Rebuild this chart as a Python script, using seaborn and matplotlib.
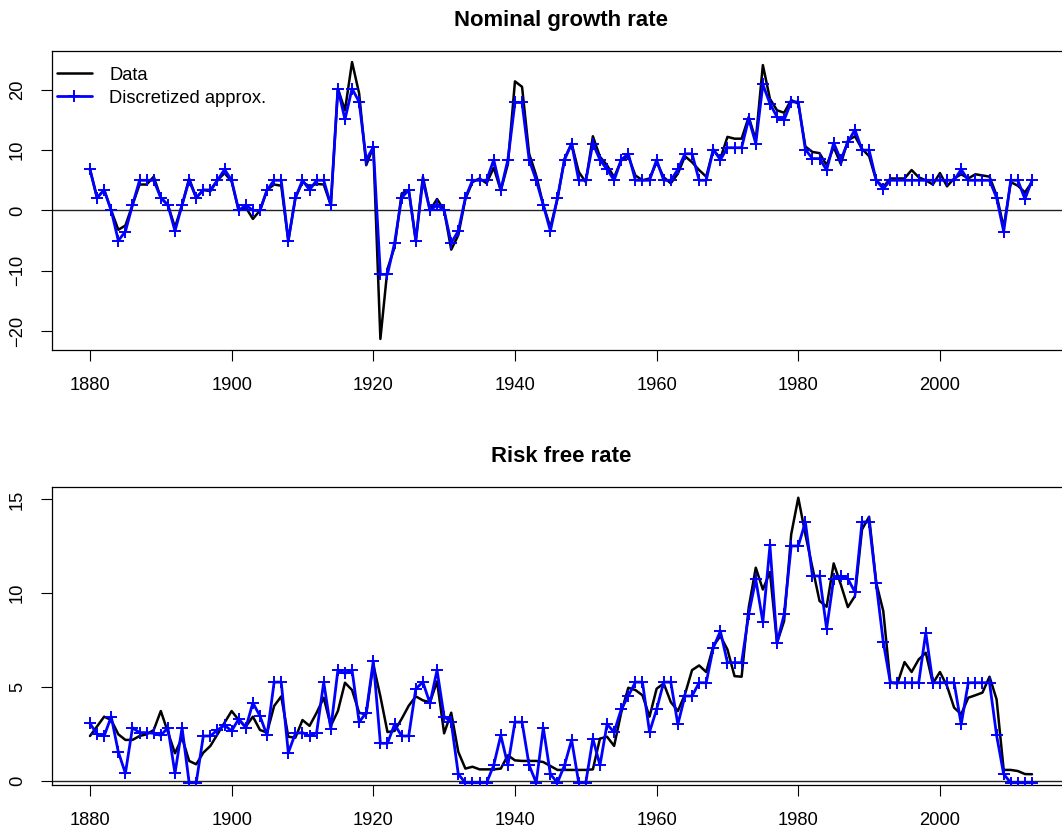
import matplotlib
matplotlib.use("Agg")
import matplotlib.pyplot as plt
import numpy as np
import pandas as pd
import seaborn as sns

# ---------------- data ----------------
years = list(range(1880, 2014))

growth_data = [
    6.8, 2.1, 3.4, 0.0, -3.2, -2.5, 0.9, 4.3, 4.3, 5.6,      # 1880-1889
    2.1, 0.9, -2.8, 0.9, 5.3, 2.1, 3.4, 3.2, 5.0, 6.2,       # 1890-1899
    4.8, 0.0, 0.5, -1.4, 0.0, 3.4, 4.3, 4.1, -5.0, 2.1,      # 1900-1909
    4.7, 4.0, 4.4, 4.3, 0.9, 20.2, 16.6, 24.6, 19.4, 7.5,    # 1910-1919
    10.5, -21.3, -9.7, -6.1, 2.8, 3.4, -5.0, 5.6, 0.0, 1.9,  # 1920-1929
    0.0, -6.5, -4.1, 1.9, 4.7, 5.3, 4.5, 7.1, 3.3, 7.7,      # 1930-1939
    21.4, 20.5, 9.4, 5.8, 0.9, -2.8, 1.9, 8.6, 11.1, 6.4,    # 1940-1949
    4.7, 12.3, 8.9, 7.5, 5.5, 8.3, 9.0, 5.8, 5.0, 5.3,       # 1950-1959
    8.0, 5.5, 4.5, 6.1, 9.0, 8.0, 6.7, 5.6, 10.1, 8.6,       # 1960-1969
    12.2, 11.9, 11.9, 15.5, 11.7, 24.1, 18.5, 16.6, 16.2, 18.3,  # 1970-1979
    17.7, 10.6, 9.7, 9.5, 7.5, 10.5, 7.7, 11.6, 12.3, 10.2,  # 1980-1989
    9.0, 5.0, 3.9, 5.3, 5.3, 5.3, 6.7, 5.5, 5.0, 4.3,        # 1990-1999
    6.2, 4.0, 5.3, 6.0, 5.3, 6.0, 5.8, 5.6, 2.5, -2.8,       # 2000-2009
    4.7, 4.1, 3.0, 4.7,                                      # 2010-2013
]

growth_approx = [
    6.8, 2.1, 3.4, 0.0, -5.0, -3.5, 0.9, 5.0, 5.0, 5.0,
    2.1, 0.9, -3.4, 0.9, 5.0, 2.1, 3.4, 3.4, 5.0, 6.8,
    5.0, 0.0, 0.9, 0.0, 0.0, 3.4, 5.0, 5.0, -5.0, 2.1,
    5.0, 3.4, 5.0, 5.0, 0.9, 20.2, 15.1, 20.2, 18.0, 8.4,
    10.5, -10.6, -10.6, -5.4, 2.1, 3.4, -5.0, 5.0, 0.0, 0.9,
    0.0, -5.4, -3.4, 2.1, 5.0, 5.0, 5.0, 8.4, 3.4, 8.4,
    17.9, 17.9, 8.4, 5.0, 0.9, -3.4, 2.1, 8.4, 11.1, 5.0,
    5.0, 11.1, 8.4, 6.8, 5.0, 8.4, 9.4, 5.0, 5.0, 5.0,
    8.4, 5.0, 5.0, 6.8, 9.4, 9.4, 5.0, 5.0, 10.1, 8.4,
    10.4, 10.4, 10.4, 15.2, 11.1, 20.9, 17.7, 15.5, 15.0, 18.0,
    18.0, 10.1, 8.6, 8.6, 6.7, 11.2, 8.4, 11.3, 13.4, 10.0,
    10.0, 5.0, 3.6, 5.0, 5.0, 5.0, 5.0, 5.0, 5.0, 5.0,
    5.0, 5.0, 5.0, 6.8, 5.0, 5.0, 5.0, 5.0, 2.1, -3.5,
    5.0, 5.0, 1.9, 5.0,
]

rf_data = [
    2.39, 2.9, 3.42, 3.24, 2.48, 2.18, 2.18, 2.39, 2.48, 2.71,
    3.72, 2.6, 1.47, 2.3, 1.06, 0.88, 1.5, 1.86, 2.48, 3.1,
    3.72, 3.24, 2.89, 3.42, 2.71, 2.57, 3.99, 4.5, 2.35, 2.3,
    3.24, 2.93, 3.63, 4.43, 2.93, 3.72, 5.23, 4.84, 3.63, 3.54,
    6.2, 4.5, 2.6, 2.66, 3.3, 4.0, 4.5, 4.29, 4.18, 5.3,
    2.53, 3.63, 1.54, 0.65, 0.75, 0.61, 0.61, 0.61, 0.65, 1.36,
    1.09, 1.06, 1.06, 1.06, 1.0, 0.79, 0.58, 0.58, 0.58, 0.58,
    0.58, 0.61, 2.25, 2.35, 1.86, 3.63, 4.96, 4.84, 4.56, 3.42,
    4.91, 5.19, 4.2, 3.72, 4.61, 5.9, 6.15, 5.8, 7.18, 7.72,
    7.0, 5.58, 5.55, 9.23, 11.36, 10.2, 11.13, 7.36, 8.52, 13.14,
    15.09, 13.14, 11.36, 9.59, 9.28, 11.59, 10.47, 9.26, 9.85, 13.4,
    14.08, 10.56, 9.05, 5.23, 5.19, 6.33, 5.8, 6.47, 6.83, 5.19,
    5.8, 5.05, 3.9, 3.55, 4.43, 4.56, 4.7, 5.55, 4.34, 0.58,
    0.58, 0.52, 0.36, 0.35,
]

rf_approx = [
    3.06, 2.48, 2.39, 3.42, 1.54, 0.40, 2.83, 2.57, 2.57, 2.53,
    2.42, 2.83, 0.40, 2.83, -0.1, -0.1, 2.39, 2.39, 2.71, 2.96,
    2.66, 3.30, 2.83, 4.16, 3.45, 2.42, 5.26, 5.26, 1.50, 2.53,
    2.57, 2.39, 2.57, 5.26, 2.78, 5.90, 5.73, 5.90, 3.13, 3.63,
    6.39, 2.00, 2.00, 3.01, 2.39, 2.39, 4.91, 5.26, 4.13, 5.90,
    3.42, 3.13, 0.35, -0.1, -0.1, -0.1, -0.1, 0.83, 2.42, 0.83,
    3.13, 3.13, 0.83, -0.1, 2.83, 0.35, -0.1, 0.83, 2.18, -0.1,
    -0.1, 2.25, 0.83, 3.01, 2.60, 3.81, 4.52, 5.26, 5.26, 2.60,
    3.81, 5.26, 5.26, 3.01, 4.52, 4.52, 5.23, 5.23, 7.10, 7.98,
    6.30, 6.30, 6.30, 8.87, 10.74, 8.46, 12.55, 7.36, 8.87, 12.52,
    12.52, 13.80, 10.92, 10.92, 8.11, 10.77, 10.92, 10.77, 10.06, 13.80,
    13.80, 10.52, 7.40, 5.23, 5.23, 5.23, 5.23, 5.23, 7.90, 5.23,
    5.23, 5.23, 5.23, 3.01, 5.23, 5.23, 5.23, 5.23, 2.42, 0.35,
    -0.1, -0.1, -0.1, -0.1,
]

titles = ["Nominal growth rate", "Risk free rate"]
legend_labels = ["Data", "Discretized approx."]
xtick_vals = [1880, 1900, 1920, 1940, 1960, 1980, 2000]
ytick_top = [-20, -10, 0, 10, 20]
ytick_bottom = [0, 5, 10, 15]

growth_df = pd.DataFrame({"year": years, "data": growth_data, "approx": growth_approx})
rf_df = pd.DataFrame({"year": years, "data": rf_data, "approx": rf_approx})

# ---------------- style ----------------
sns.set_style("ticks")
plt.rcParams['font.family'] = ['Liberation Sans', 'DejaVu Sans']
plt.rcParams['text.color'] = 'black'

W, H = 1062, 834
fig = plt.figure(figsize=(W / 100, H / 100), dpi=100)


def px_axes(left, top, right, bottom):
    return fig.add_axes([left / W, 1 - bottom / H, (right - left) / W, (bottom - top) / H])


ax1 = px_axes(52.3, 51, 1069.7, 350)
ax2 = px_axes(52.3, 486.7, 1069.7, 785.3)


def r_range(vals):
    lo, hi = min(vals), max(vals)
    ext = 0.04 * (hi - lo)
    return lo - ext, hi + ext


FS = 13.25
for ax, df, title, yt in [(ax1, growth_df, titles[0], ytick_top),
                          (ax2, rf_df, titles[1], ytick_bottom)]:
    ax.axhline(0, color="#222222", lw=1.0, zorder=1)
    sns.lineplot(data=df, x="year", y="data", color="black", lw=1.8,
                 ax=ax, label=legend_labels[0], zorder=2)
    sns.lineplot(data=df, x="year", y="approx", color="blue", lw=2.0,
                 marker="+", markersize=8, markeredgewidth=1.4,
                 markeredgecolor="blue", ax=ax, label=legend_labels[1], zorder=3)
    ax.set_xlim(*r_range(years))
    ax.set_ylim(*r_range(df["data"].tolist()))
    ax.set_xticks(xtick_vals)
    ax.set_yticks(yt)
    ax.set_xlabel("")
    ax.set_ylabel("")
    ax.tick_params(axis="both", direction="out", length=7.9, width=0.8,
                   labelsize=FS, colors="black")
    ax.tick_params(axis="x", pad=11.5)
    ax.tick_params(axis="y", pad=11)
    for lab in ax.get_yticklabels():
        lab.set_rotation(90)
        lab.set_va("center")
    for name, s in ax.spines.items():
        s.set_visible(name != "right")
        s.set_linewidth(0.9)
        s.set_color("black")
    ax.set_title(title, fontsize=15.9, fontweight="bold", pad=18, color="black")
    leg = ax.get_legend()
    if leg is not None:
        leg.remove()

ax1.legend(loc="upper left", bbox_to_anchor=(0.0046, 0.947), frameon=False,
           fontsize=FS, handlelength=1.9, handletextpad=0.95,
           labelspacing=0.32, borderpad=0, borderaxespad=0)

fig.savefig("out.png", dpi=100, facecolor="white")
